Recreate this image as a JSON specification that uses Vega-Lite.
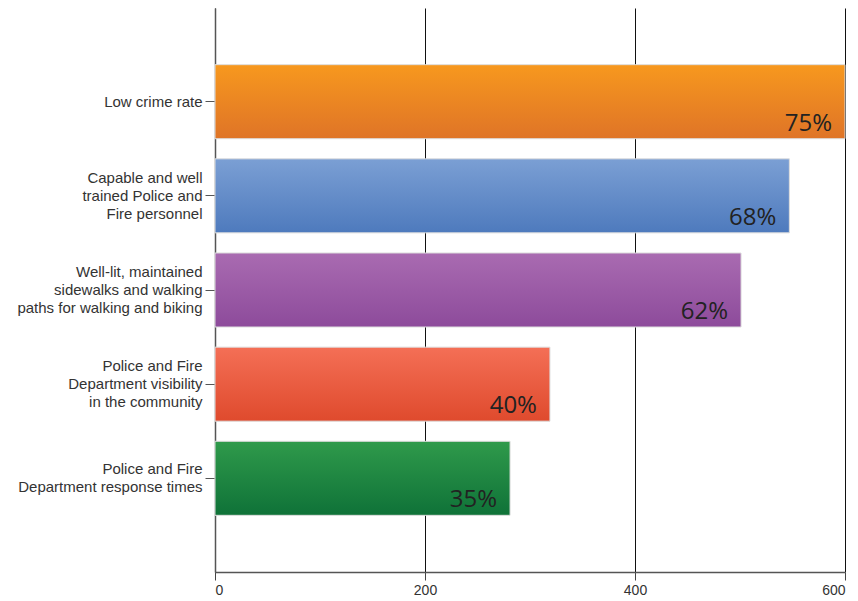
{
  "$schema": "https://vega.github.io/schema/vega-lite/v6.json",
  "width": 630,
  "height": 564,
  "autosize": "none",
  "padding": {"left": 215, "top": 8, "right": 13, "bottom": 29},
  "background": "white",
  "config": {"view": {"stroke": null}},
  "data": {
    "values": [
      {"cause": "Low crime rate", "value": 600, "label": "75%", "key": "crime"},
      {"cause": "Capable and well|trained Police and|Fire personnel", "value": 547, "label": "68%", "key": "personnel"},
      {"cause": "Well-lit, maintained|sidewalks and walking|paths for walking and biking", "value": 501, "label": "62%", "key": "sidewalks"},
      {"cause": "Police and Fire|Department visibility|in the community", "value": 319, "label": "40%", "key": "visibility"},
      {"cause": "Police and Fire|Department response times", "value": 281, "label": "35%", "key": "response"}
    ]
  },
  "encoding": {
    "y": {
      "field": "cause",
      "type": "nominal",
      "sort": null,
      "scale": {"paddingInner": 0.214, "paddingOuter": 0.602},
      "axis": {
        "title": null,
        "labelExpr": "split(datum.label, '|')",
        "labelFont": "Liberation Sans",
        "labelFontSize": 15,
        "labelLineHeight": 18,
        "labelColor": "#333333",
        "labelPadding": 3,
        "labelLimit": 260,
        "labelOffset": {
          "condition": [
            {"test": "length(split(datum.value, '|')) === 3", "value": -18},
            {"test": "length(split(datum.value, '|')) === 2", "value": -9}
          ],
          "value": 0
        },
        "tickSize": 10,
        "tickColor": "#555555",
        "domainColor": "#555555",
        "domainWidth": 1.5,
        "grid": false
      }
    },
    "x": {
      "field": "value",
      "type": "quantitative",
      "scale": {"domain": [0, 600], "nice": false},
      "axis": {
        "title": null,
        "values": [0, 200, 400, 600],
        "labelFont": "Liberation Sans",
        "labelFontSize": 14,
        "labelColor": "#333333",
        "labelPadding": 3,
        "tickSize": 8,
        "tickColor": "#444444",
        "domainColor": "#555555",
        "domainWidth": 1.5,
        "grid": true,
        "gridColor": "#111111",
        "gridWidth": 1,
        "gridOpacity": 1
      }
    }
  },
  "layer": [
    {
      "mark": {"type": "bar", "stroke": "#dddddd", "strokeWidth": 1},
      "encoding": {
        "fill": {
          "condition": [
            {"test": "datum.key === 'crime'", "value": {"gradient": "linear", "x1": 0, "y1": 0, "x2": 0, "y2": 1, "stops": [{"offset": 0, "color": "#F7981E"}, {"offset": 1, "color": "#DF7427"}]}},
            {"test": "datum.key === 'personnel'", "value": {"gradient": "linear", "x1": 0, "y1": 0, "x2": 0, "y2": 1, "stops": [{"offset": 0, "color": "#7B9FD4"}, {"offset": 1, "color": "#4E7ABD"}]}},
            {"test": "datum.key === 'sidewalks'", "value": {"gradient": "linear", "x1": 0, "y1": 0, "x2": 0, "y2": 1, "stops": [{"offset": 0, "color": "#A96BB1"}, {"offset": 1, "color": "#8D4B9B"}]}},
            {"test": "datum.key === 'visibility'", "value": {"gradient": "linear", "x1": 0, "y1": 0, "x2": 0, "y2": 1, "stops": [{"offset": 0, "color": "#F46F56"}, {"offset": 1, "color": "#DF4A2D"}]}}
          ],
          "value": {"gradient": "linear", "x1": 0, "y1": 0, "x2": 0, "y2": 1, "stops": [{"offset": 0, "color": "#2F9A4B"}, {"offset": 1, "color": "#0F7238"}]}
        }
      }
    },
    {
      "mark": {"type": "text", "align": "right", "baseline": "alphabetic", "dx": -13, "dy": 29, "font": "Open Sans", "fontSize": 24, "color": "#222222"},
      "encoding": {
        "text": {"field": "label"}
      }
    }
  ]
}
